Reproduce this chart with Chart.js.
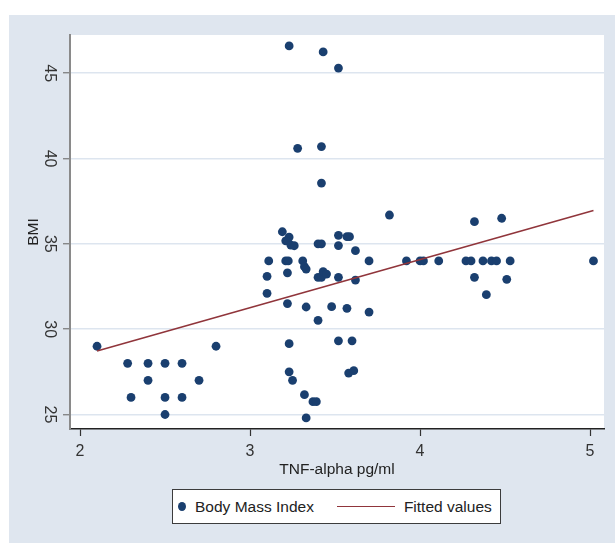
<!DOCTYPE html>
<html>
<head>
<meta charset="utf-8">
<title>BMI vs TNF-alpha</title>
<script src="https://cdn.jsdelivr.net/npm/chart.js@4.4.1/dist/chart.umd.min.js"></script>
<style>
  html, body { margin: 0; padding: 0; background: #fff; }
  #wrap { position: relative; width: 615px; height: 543px; }
  #plot { position: absolute; left: 0; top: 0; }
  #legend {
    position: absolute; left: 172px; top: 489px;
    width: 327px; height: 33px;
    border: 1px solid #3c3c3c; background: #fff;
    display: flex; align-items: center;
    font: 15.5px "Liberation Sans", Arial, sans-serif; color: #222;
  }
  #legend .dot { display: inline-block; width: 8px; height: 9px; border-radius: 50%; margin-left: 5px; }
  #legend .seg { display: inline-block; width: 58px; height: 0; border-top: 1.6px solid; margin-left: 23px; }
  #legend .txt { margin-left: 9px; white-space: nowrap; }
</style>
</head>
<body>
<div id="wrap">
  <canvas id="plot" width="615" height="543"></canvas>
  <div id="legend"></div>
</div>
<script>
// TNF-alpha (pg/ml) and BMI for each subject
const tnfAlpha = [
  2.10, 2.28, 2.40, 2.50, 2.60, 2.40, 2.70, 2.30, 2.50, 2.60, 2.50, 2.80,
  3.19, 3.23, 3.21, 3.24, 3.26, 3.11, 3.21, 3.225, 3.31, 3.32, 3.33, 3.22,
  3.10, 3.10, 3.22, 3.33, 3.23, 3.23, 3.25, 3.32, 3.33, 3.37, 3.39, 3.23,
  3.28, 3.43, 3.52, 3.42, 3.42, 3.40, 3.42, 3.40, 3.42, 3.43, 3.45, 3.40,
  3.48, 3.52, 3.52, 3.57, 3.585, 3.52, 3.57, 3.52, 3.60, 3.58, 3.61, 3.62,
  3.62, 3.70, 3.70, 3.82, 3.92, 4.00, 4.02, 4.11, 4.27, 4.30, 4.37, 4.42,
  4.45, 4.53, 5.02, 4.32, 4.48, 4.32, 4.51, 4.39
];
const bmi = [
  29.0, 28.0, 28.0, 28.0, 28.0, 27.0, 27.0, 26.0, 26.0, 26.0, 25.0, 29.0,
  35.71, 35.4, 35.18, 34.93, 34.89, 34.0, 34.0, 34.0, 34.0, 33.66, 33.52, 33.3,
  33.1, 32.1, 31.5, 31.3, 29.15, 27.5, 27.0, 26.16, 24.8, 25.75, 25.75, 46.6,
  40.6, 46.25, 45.3, 40.7, 38.56, 35.0, 35.0, 33.04, 33.04, 33.37, 33.23, 30.52,
  31.32, 35.5, 34.9, 35.42, 35.42, 33.04, 31.22, 29.32, 29.32, 27.43, 27.57, 34.6,
  32.88, 34.0, 31.0, 36.69, 34.0, 34.0, 34.0, 34.0, 34.0, 34.0, 34.0, 34.0,
  34.0, 34.0, 34.0, 36.3, 36.5, 33.04, 32.92, 32.02
];
// Linear fit, evaluated at the smallest and largest TNF-alpha values
const fitTnf = [2.10, 5.02];
const fitBmi = [28.72, 36.95];

const xTickValues = [2, 3, 4, 5];
const yTickValues = [25, 30, 35, 40, 45];

const NAVY = '#1a3f6f';
const MAROON = '#90353b';
const FONT = { family: '"Liberation Sans", Arial, sans-serif', size: 16 };
const TITLE_FONT = { family: '"Liberation Sans", Arial, sans-serif', size: 15.5 };

// Light bluish page region and white plot region
const backdrop = {
  id: 'backdrop',
  beforeDraw(chart) {
    const { ctx, chartArea: a } = chart;
    ctx.save();
    ctx.fillStyle = '#ffffff';
    ctx.fillRect(0, 0, chart.width, chart.height);
    ctx.fillStyle = '#dfe6ef';
    ctx.fillRect(9, 15, chart.width - 9, chart.height - 15);
    ctx.fillStyle = '#ffffff';
    ctx.fillRect(a.left, a.top, a.right - a.left, a.bottom - a.top);
    ctx.restore();
  }
};

// Boxed legend built from the chart's own legend items
const htmlLegend = {
  id: 'htmlLegend',
  afterUpdate(chart) {
    const box = document.getElementById('legend');
    box.innerHTML = '';
    const items = chart.options.plugins.legend.labels.generateLabels(chart)
      .sort((a, b) => a.datasetIndex - b.datasetIndex);
    items.forEach(item => {
      const ds = chart.data.datasets[item.datasetIndex];
      const mark = document.createElement('span');
      if (ds.type === 'line') {
        mark.className = 'seg';
        mark.style.borderTopColor = ds.borderColor;
      } else {
        mark.className = 'dot';
        mark.style.background = ds.backgroundColor;
      }
      const txt = document.createElement('span');
      txt.className = 'txt';
      txt.textContent = item.text;
      box.appendChild(mark);
      box.appendChild(txt);
    });
  }
};

new Chart(document.getElementById('plot'), {
  type: 'scatter',
  data: {
    datasets: [
      {
        label: 'Body Mass Index',
        data: tnfAlpha.map((x, i) => ({ x, y: bmi[i] })),
        backgroundColor: NAVY,
        borderColor: NAVY,
        borderWidth: 0,
        pointRadius: 4.4,
        order: 1
      },
      {
        type: 'line',
        label: 'Fitted values',
        data: fitTnf.map((x, i) => ({ x, y: fitBmi[i] })),
        borderColor: MAROON,
        backgroundColor: MAROON,
        borderWidth: 1.6,
        pointRadius: 0,
        fill: false,
        tension: 0,
        order: 0
      }
    ]
  },
  options: {
    responsive: false,
    animation: false,
    devicePixelRatio: 1,
    layout: { padding: { left: 0, top: 35, right: 11, bottom: 62 } },
    plugins: {
      legend: { display: false },
      tooltip: { enabled: false }
    },
    scales: {
      x: {
        type: 'linear',
        min: 1.941,
        max: 5.082,
        afterBuildTicks: s => { s.ticks = xTickValues.map(v => ({ value: v })); },
        afterFit: s => { s.height = 52; },
        grid: { drawOnChartArea: false, tickLength: 7, tickColor: '#333', tickWidth: 1.2 },
        border: { color: '#222', width: 1.5 },
        ticks: { color: '#333', font: FONT, padding: 6, maxRotation: 0, autoSkip: false },
        title: { display: true, text: 'TNF-alpha pg/ml', color: '#222', font: TITLE_FONT, padding: { top: 0, bottom: 2 } }
      },
      y: {
        type: 'linear',
        min: 24.15,
        max: 47.24,
        afterBuildTicks: s => { s.ticks = yTickValues.map(v => ({ value: v })); },
        afterFit: s => { s.width = 70; },
        grid: { color: '#dde5ef', lineWidth: 1.5, tickColor: '#777', tickLength: 7, tickWidth: 1.2 },
        border: { color: '#8a8a8a', width: 2 },
        ticks: { color: '#333', font: FONT, padding: 4.5, minRotation: -90, maxRotation: -90, crossAlign: 'center', autoSkip: false },
        title: { display: true, text: 'BMI', color: '#222', font: TITLE_FONT, padding: { top: 24, bottom: 0 } }
      }
    }
  },
  plugins: [backdrop, htmlLegend]
});
</script>
</body>
</html>
